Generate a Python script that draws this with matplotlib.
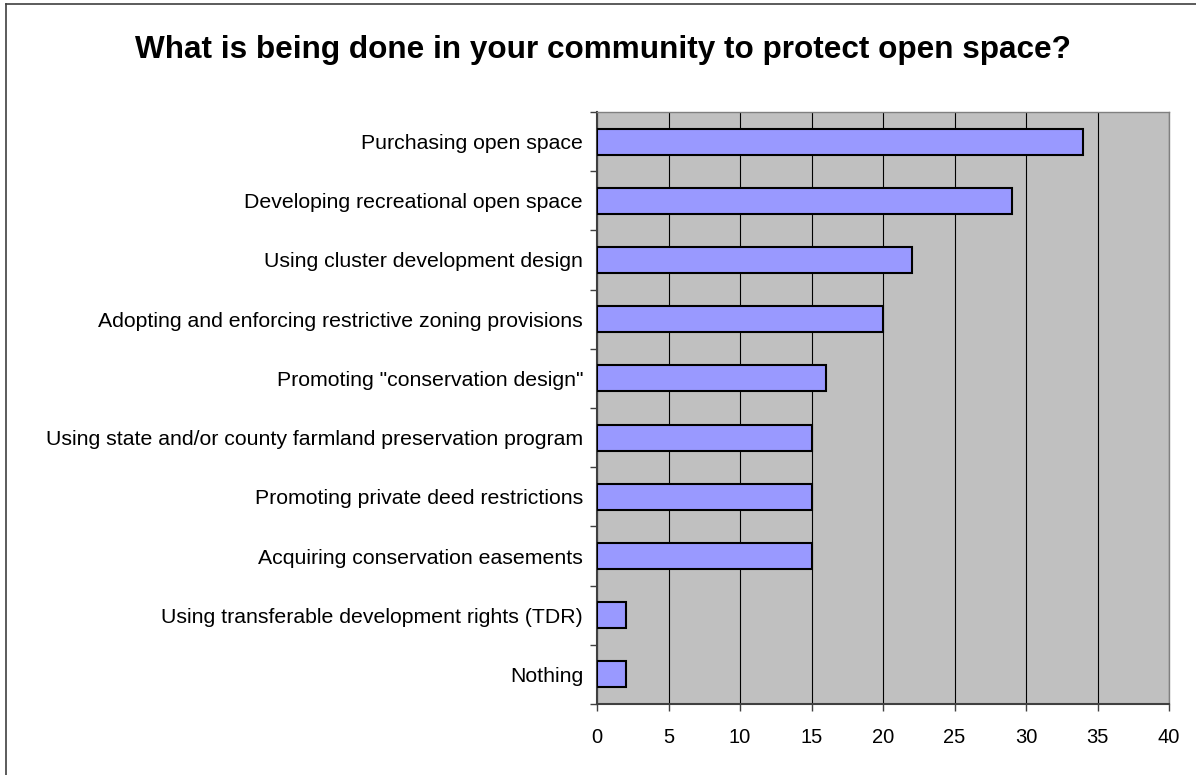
import numpy as np
import matplotlib.pyplot as plt
from matplotlib.lines import Line2D

plt.rcParams['font.family'] = ['Liberation Sans', 'DejaVu Sans']

# survey answers, top to bottom as shown
categories = [
    'Purchasing open space',
    'Developing recreational open space',
    'Using cluster development design',
    'Adopting and enforcing restrictive zoning provisions',
    'Promoting "conservation design"',
    'Using state and/or county farmland preservation program',
    'Promoting private deed restrictions',
    'Acquiring conservation easements',
    'Using transferable development rights (TDR)',
    'Nothing',
]
counts = [34, 29, 22, 20, 16, 15, 15, 15, 2, 2]
xticks = [0, 5, 10, 15, 20, 25, 30, 35, 40]

fig = plt.figure(figsize=(11.96, 7.75), dpi=100)
ax = fig.add_axes([597 / 1196, 1 - 704 / 775, 572 / 1196, 592 / 775])
ax.set_facecolor('#C0C0C0')

ypos = np.arange(len(categories))
ax.barh(ypos, counts, height=0.44, color='#9999FF', edgecolor='black',
        linewidth=1.5, zorder=3)

ax.set_xlim(0, 40)
ax.set_ylim(len(categories) - 0.5, -0.5)
ax.set_xticks(xticks)
ax.xaxis.grid(True, color='black', linewidth=0.8, zorder=1)
ax.set_axisbelow(True)

# labels at bar centres, tick marks on the category boundaries
ax.set_yticks(ypos)
ax.set_yticklabels(categories, fontsize=15.3)
ax.tick_params(axis='y', which='major', length=0, pad=10)
ax.set_yticks(np.arange(-0.5, len(categories), 1.0), minor=True)
ax.tick_params(axis='y', which='minor', length=5, width=1, color='#404040')
ax.tick_params(axis='x', length=5, width=1, color='#404040', labelsize=14.5, pad=12)

for side in ['left', 'bottom']:
    ax.spines[side].set_color('#404040')
    ax.spines[side].set_linewidth(1.5)
for side in ['top', 'right']:
    ax.spines[side].set_color('#808080')
    ax.spines[side].set_linewidth(1)

fig.text(603 / 1196, 1 - 50 / 775, 'What is being done in your community to protect open space?',
         ha='center', va='center', fontsize=22.7, fontweight='bold')

# outer chart border (only left and top edges visible)
fig.add_artist(Line2D([6 / 1196, 6 / 1196], [0, 1 - 4 / 775], color='#404040', lw=1.2))
fig.add_artist(Line2D([6 / 1196, 1], [1 - 4 / 775, 1 - 4 / 775], color='#404040', lw=1.2))

fig.savefig('out.png', dpi=100)
